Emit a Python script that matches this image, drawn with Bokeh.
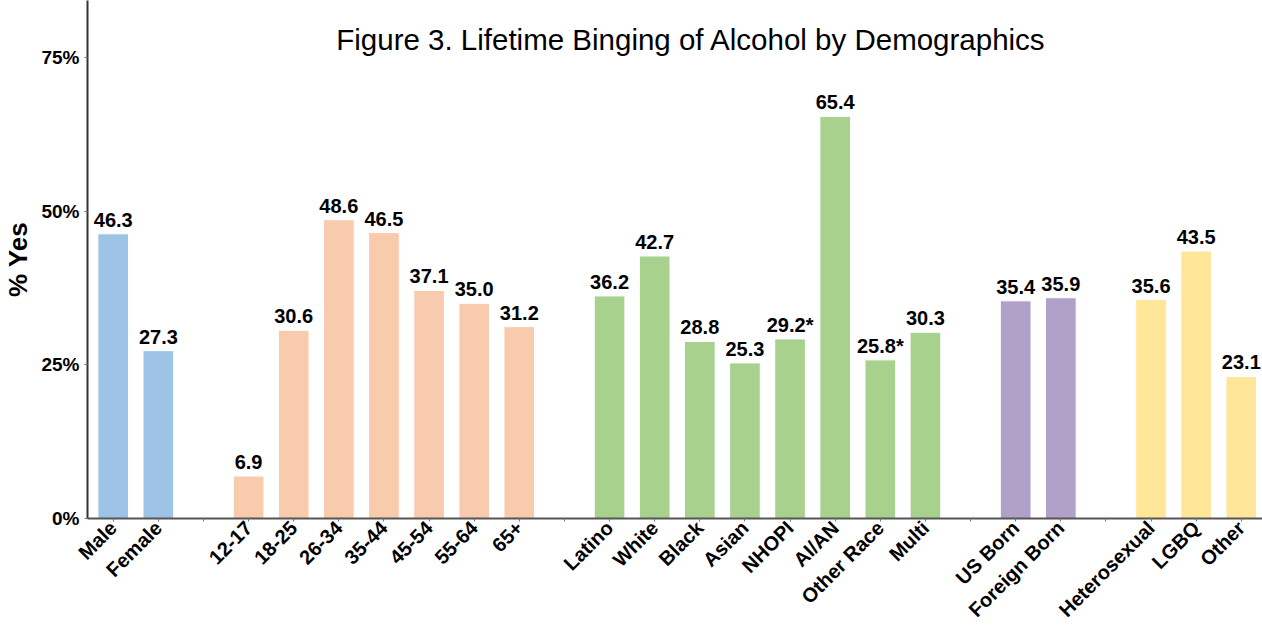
import math
from bokeh.plotting import figure
from bokeh.models import FixedTicker, Label, ColumnDataSource, Range1d
from bokeh.core.properties import value
from bokeh.embed import file_html
from bokeh.resources import INLINE

# ---- data ----
sex_labels = ["Male", "Female"]
sex_values = [46.3, 27.3]
sex_flags = ["", ""]

age_labels = ["12-17", "18-25", "26-34", "35-44", "45-54", "55-64", "65+"]
age_values = [6.9, 30.6, 48.6, 46.5, 37.1, 35.0, 31.2]
age_flags = ["", "", "", "", "", "", ""]

race_labels = ["Latino", "White", "Black", "Asian", "NHOPI", "AI/AN", "Other Race", "Multi"]
race_values = [36.2, 42.7, 28.8, 25.3, 29.2, 65.4, 25.8, 30.3]
race_flags = ["", "", "", "", "*", "", "*", ""]

nativity_labels = ["US Born", "Foreign Born"]
nativity_values = [35.4, 35.9]
nativity_flags = ["", ""]

orient_labels = ["Heterosexual", "LGBQ", "Other"]
orient_values = [35.6, 43.5, 23.1]
orient_flags = ["", "", ""]

group_colors = ["#9DC3E6", "#F8CBAD", "#A9D18E", "#B1A0C7", "#FFE699"]

y_ticks = [0, 25, 50, 75]
title_text = "Figure 3. Lifetime Binging of Alcohol by Demographics"

groups = [
    (sex_labels, sex_values, sex_flags),
    (age_labels, age_values, age_flags),
    (race_labels, race_values, race_flags),
    (nativity_labels, nativity_values, nativity_flags),
    (orient_labels, orient_values, orient_flags),
]

xs, tops, colors, texts = [], [], [], []
tick_pos, tick_lab = [], {}
slot = 0
for gi, (labs, vals, flags) in enumerate(groups):
    if gi > 0:
        tick_pos.append(slot)
        tick_lab[slot] = ""
        slot += 1
    for lab, v, f in zip(labs, vals, flags):
        xs.append(slot)
        tops.append(v)
        colors.append(group_colors[gi])
        texts.append(f"{v:.1f}{f}")
        tick_pos.append(slot)
        tick_lab[slot] = lab
        slot += 1

FONT = "Liberation Sans"
W, H = 1262, 631
X_START = -0.57
X_END = X_START + 26.04
Y_END = 84.25

src = ColumnDataSource(dict(x=xs, top=tops, color=colors, text=texts))

p = figure(width=W, height=H, output_backend="svg", toolbar_location=None,
           x_range=Range1d(X_START, X_END), y_range=Range1d(0, Y_END),
           min_border_left=87, min_border_right=0, min_border_top=0, min_border_bottom=0)
p.outline_line_color = None
p.xgrid.grid_line_color = None
p.ygrid.grid_line_color = None
p.background_fill_color = "white"
p.border_fill_color = "white"

p.vbar(x="x", top="top", width=0.68, color="color", line_color="white", line_width=1, source=src)
p.text(x="x", y="top", text="text", source=src, text_align="center", text_baseline="alphabetic",
       y_offset=-14, text_font=value(FONT), text_font_style="bold", text_font_size="20px",
       text_color="black")

# x axis
xa = p.xaxis[0]
xa.ticker = FixedTicker(ticks=tick_pos)
xa.major_label_overrides = tick_lab
xa.major_label_orientation = math.pi / 4
xa.major_label_text_font = FONT
xa.major_label_text_font_style = "bold"
xa.major_label_text_font_size = "20px"
xa.major_label_text_color = "black"
xa.axis_line_color = "#555555"
xa.axis_line_width = 2
xa.major_tick_line_color = "#777777"
xa.major_tick_out = 3
xa.major_tick_in = 0
xa.minor_tick_line_color = None
xa.major_label_standoff = 3

# y axis
ya = p.yaxis[0]
ya.ticker = FixedTicker(ticks=y_ticks)
ya.major_label_overrides = {t: f"{t}%" for t in y_ticks}
ya.major_label_text_font = FONT
ya.major_label_text_font_style = "bold"
ya.major_label_text_font_size = "19px"
ya.major_label_text_color = "black"
ya.axis_line_color = "#333333"
ya.axis_line_width = 2
ya.major_tick_line_color = "#777777"
ya.major_tick_out = 3
ya.major_tick_in = 0
ya.minor_tick_line_color = None
ya.major_label_standoff = 5
ya.axis_label = "% Yes"
ya.axis_label_text_font = FONT
ya.axis_label_text_font_style = "bold"
ya.axis_label_text_font_size = "26px"
ya.axis_label_text_color = "black"
ya.axis_label_standoff = 5

p.add_layout(Label(x=12.81, y=77.9, text=title_text, text_align="center", text_baseline="alphabetic",
                   text_font=FONT, text_font_size="29.5px", text_color="black"))

open("out.html", "w").write(file_html(p, INLINE))
